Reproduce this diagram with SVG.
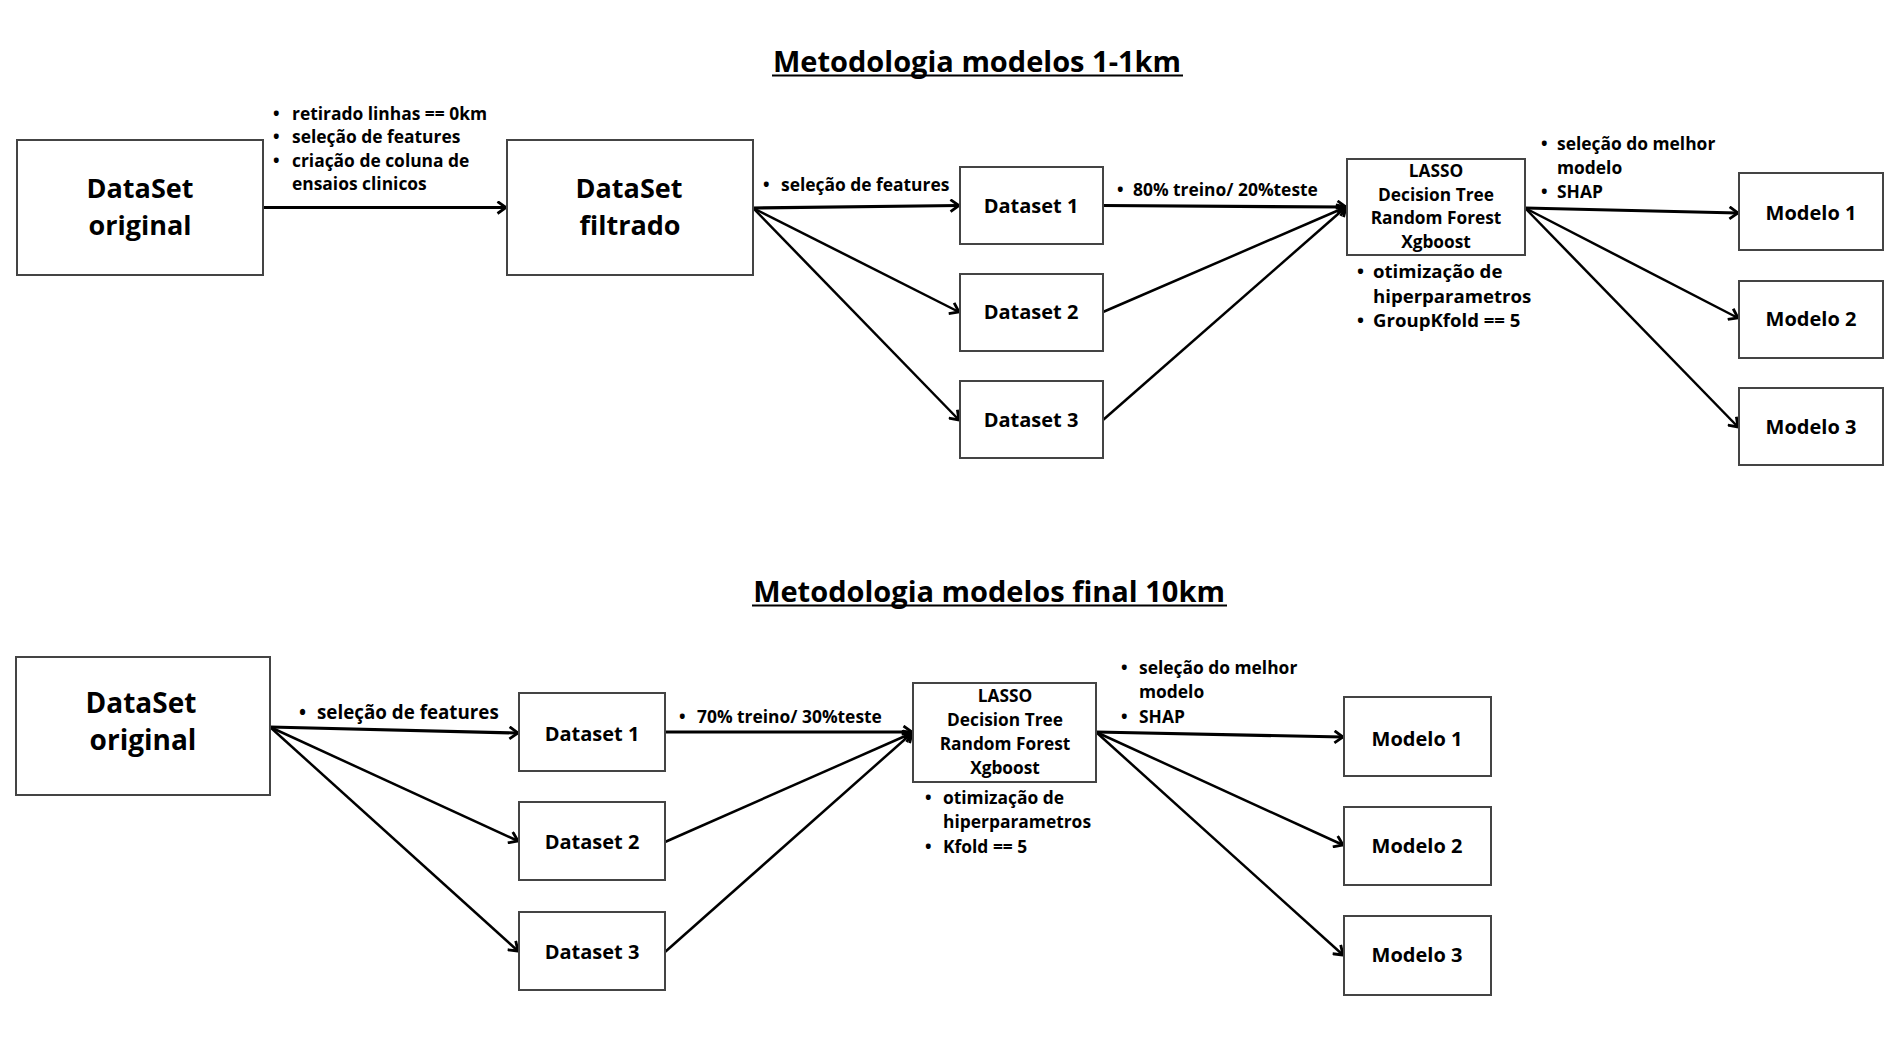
<svg xmlns="http://www.w3.org/2000/svg" width="1897" height="1049" viewBox="0 0 1897 1049">
<style>
text{font-family:"Open Sans","Liberation Sans",sans-serif;font-weight:700;fill:#000}
.box{fill:#fff;stroke:#444;stroke-width:2}
.big{font-size:27px;text-anchor:middle}
.mid{font-size:20px;text-anchor:middle}
.alg{font-size:17.3px;text-anchor:middle}
.lbl{font-size:17.4px}
.lbl2{font-size:18.6px}
.title{font-size:29px;text-anchor:middle}
.ul{stroke:#000;stroke-width:2.2}
.c{stroke:#000;fill:none;marker-end:url(#ah)}
.t{stroke-width:3.2}
.d{stroke-width:2.5}
</style>
<defs>
<marker id="ah" markerUnits="userSpaceOnUse" viewBox="0 0 12 14" refX="10.5" refY="7" markerWidth="12" markerHeight="14" orient="auto">
<path d="M2,1 L10.5,7 L2,13" fill="none" stroke="#000" stroke-width="2.8" stroke-linejoin="miter"/>
</marker>
</defs>
<rect width="1897" height="1049" fill="#fff"/>

<g id="title-top">
<text class="title" x="977" y="72">Metodologia modelos 1-1km</text>
<line class="ul" x1="772" y1="75.5" x2="1183" y2="75.5"/>
</g>
<g id="title-bottom">
<text class="title" x="989" y="602">Metodologia modelos final 10km</text>
<line class="ul" x1="752" y1="605.5" x2="1227" y2="605.5"/>
</g>

<g id="connectors">
<line class="c t" x1="263" y1="207.5" x2="506" y2="207.5"/>
<line class="c t" x1="753" y1="208" x2="959" y2="205.5"/>
<line class="c d" x1="753" y1="208" x2="959" y2="312"/>
<line class="c d" x1="753" y1="208" x2="959" y2="420"/>
<line class="c t" x1="1103" y1="205.5" x2="1346" y2="207"/>
<line class="c d" x1="1103" y1="312" x2="1346" y2="207"/>
<line class="c d" x1="1103" y1="420" x2="1346" y2="207"/>
<line class="c t" x1="1525" y1="208" x2="1738" y2="213"/>
<line class="c d" x1="1525" y1="208" x2="1738" y2="318"/>
<line class="c d" x1="1525" y1="208" x2="1738" y2="427"/>

<line class="c t" x1="270" y1="727" x2="518" y2="733"/>
<line class="c d" x1="270" y1="727" x2="518" y2="841"/>
<line class="c d" x1="270" y1="727" x2="518" y2="951"/>
<line class="c t" x1="665" y1="732" x2="912" y2="732"/>
<line class="c d" x1="665" y1="842" x2="912" y2="733"/>
<line class="c d" x1="665" y1="952" x2="912" y2="733"/>
<line class="c t" x1="1096" y1="732" x2="1343" y2="737"/>
<line class="c d" x1="1096" y1="732" x2="1343" y2="845"/>
<line class="c d" x1="1096" y1="732" x2="1343" y2="955"/>
</g>

<g id="labels">
<text class="lbl"><tspan x="273" y="120">•</tspan><tspan x="292" y="120">retirado linhas == 0km</tspan></text>
<text class="lbl"><tspan x="273" y="143">•</tspan><tspan x="292" y="143">seleção de features</tspan></text>
<text class="lbl"><tspan x="273" y="167">•</tspan><tspan x="292" y="167">criação de coluna de</tspan></text>
<text class="lbl" x="292" y="190">ensaios clinicos</text>

<text class="lbl"><tspan x="763" y="191">•</tspan><tspan x="781" y="191">seleção de features</tspan></text>
<text class="lbl"><tspan x="1117" y="196">•</tspan><tspan x="1133" y="196">80% treino/ 20%teste</tspan></text>

<text class="lbl"><tspan x="1541" y="150">•</tspan><tspan x="1557" y="150">seleção do melhor</tspan></text>
<text class="lbl" x="1557" y="174">modelo</text>
<text class="lbl"><tspan x="1541" y="198">•</tspan><tspan x="1557" y="198">SHAP</tspan></text>

<text class="lbl2"><tspan x="1357" y="278">•</tspan><tspan x="1373" y="278">otimização de</tspan></text>
<text class="lbl2" x="1373" y="303">hiperparametros</text>
<text class="lbl2"><tspan x="1357" y="327">•</tspan><tspan x="1373" y="327">GroupKfold == 5</tspan></text>

<text class="lbl" style="font-size:18.8px"><tspan x="299" y="719">•</tspan><tspan x="317" y="719">seleção de features</tspan></text>
<text class="lbl"><tspan x="679" y="723">•</tspan><tspan x="697" y="723">70% treino/ 30%teste</tspan></text>

<text class="lbl"><tspan x="1121" y="674">•</tspan><tspan x="1139" y="674">seleção do melhor</tspan></text>
<text class="lbl" x="1139" y="698">modelo</text>
<text class="lbl"><tspan x="1121" y="723">•</tspan><tspan x="1139" y="723">SHAP</tspan></text>

<text class="lbl"><tspan x="925" y="803.5">•</tspan><tspan x="943" y="803.5">otimização de</tspan></text>
<text class="lbl" x="943" y="828">hiperparametros</text>
<text class="lbl"><tspan x="925" y="852.5">•</tspan><tspan x="943" y="852.5">Kfold == 5</tspan></text>
</g>

<g id="n-original-top"><rect class="box" x="17" y="140" width="246" height="135"/><text class="big" x="140" y="198">DataSet</text><text class="big" x="140" y="235">original</text></g>
<g id="n-filtrado"><rect class="box" x="507" y="140" width="246" height="135"/><text class="big" x="629" y="198">DataSet</text><text class="big" x="630" y="235">filtrado</text></g>
<g id="n-ds1-top"><rect class="box" x="960" y="167" width="143" height="77"/><text class="mid" x="1031" y="213">Dataset 1</text></g>
<g id="n-ds2-top"><rect class="box" x="960" y="274" width="143" height="77"/><text class="mid" x="1031" y="319">Dataset 2</text></g>
<g id="n-ds3-top"><rect class="box" x="960" y="381" width="143" height="77"/><text class="mid" x="1031" y="427">Dataset 3</text></g>
<g id="n-algos-top"><rect class="box" x="1347" y="159" width="178" height="96"/>
<text class="alg" x="1436" y="177">LASSO</text><text class="alg" x="1436" y="201">Decision Tree</text><text class="alg" x="1436" y="224">Random Forest</text><text class="alg" x="1436" y="248">Xgboost</text></g>
<g id="n-m1-top"><rect class="box" x="1739" y="173" width="144" height="77"/><text class="mid" x="1811" y="220">Modelo 1</text></g>
<g id="n-m2-top"><rect class="box" x="1739" y="281" width="144" height="77"/><text class="mid" x="1811" y="326">Modelo 2</text></g>
<g id="n-m3-top"><rect class="box" x="1739" y="388" width="144" height="77"/><text class="mid" x="1811" y="434">Modelo 3</text></g>

<g id="n-original-bottom"><rect class="box" x="16" y="657" width="254" height="138"/><text class="big" x="141" y="713" style="font-size:28px">DataSet</text><text class="big" x="143" y="750" style="font-size:28px">original</text></g>
<g id="n-ds1-bottom"><rect class="box" x="519" y="693" width="146" height="78"/><text class="mid" x="592" y="741">Dataset 1</text></g>
<g id="n-ds2-bottom"><rect class="box" x="519" y="802" width="146" height="78"/><text class="mid" x="592" y="849">Dataset 2</text></g>
<g id="n-ds3-bottom"><rect class="box" x="519" y="912" width="146" height="78"/><text class="mid" x="592" y="959">Dataset 3</text></g>
<g id="n-algos-bottom"><rect class="box" x="913" y="683" width="183" height="99"/>
<text class="alg" x="1005" y="702">LASSO</text><text class="alg" x="1005" y="726">Decision Tree</text><text class="alg" x="1005" y="750">Random Forest</text><text class="alg" x="1005" y="774">Xgboost</text></g>
<g id="n-m1-bottom"><rect class="box" x="1344" y="697" width="147" height="79"/><text class="mid" x="1417" y="746">Modelo 1</text></g>
<g id="n-m2-bottom"><rect class="box" x="1344" y="807" width="147" height="78"/><text class="mid" x="1417" y="853">Modelo 2</text></g>
<g id="n-m3-bottom"><rect class="box" x="1344" y="916" width="147" height="79"/><text class="mid" x="1417" y="962">Modelo 3</text></g>
</svg>
